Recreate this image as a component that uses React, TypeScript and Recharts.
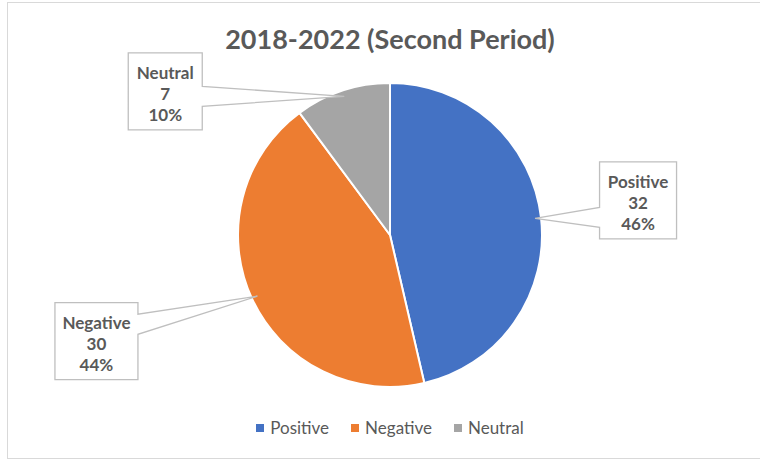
import { PieChart, Pie, Cell, Legend } from "recharts";

const categories = ["Positive", "Negative", "Neutral"];
const counts = [32, 30, 7];
const shareLabels = ["46%", "44%", "10%"];
const colors = ["#4472C4", "#ED7D31", "#A5A5A5"];

const data = categories.map((name, i) => ({ name, value: counts[i] }));

const FONT = "Lato, 'Open Sans', sans-serif";
const RAD = Math.PI / 180;

// where each callout box sits, relative to the point it marks on the slice
const callouts: Record<string, { dx: number; dy: number; w: number }> = {
  Positive: { dx: 103, dy: -18, w: 77 },
  Negative: { dx: -161, dy: 45, w: 83 },
  Neutral: { dx: -179, dy: -5, w: 74 },
};

function Callout(props: any) {
  const { cx, cy, midAngle, outerRadius, name, value, index } = props;
  const r = outerRadius - 6;
  const ax = cx + r * Math.cos(-midAngle * RAD);
  const ay = cy + r * Math.sin(-midAngle * RAD);
  const c = callouts[name];
  const h = 77;
  const bx = ax + c.dx;
  const by = ay + c.dy;
  const left = bx - c.w / 2;
  const right = bx + c.w / 2;
  const top = by - h / 2;
  const bottom = by + h / 2;
  const ny = Math.min(Math.max(ay, top + h * 0.28), bottom - h * 0.28);
  const pts =
    bx > ax
      ? [[left, top], [right, top], [right, bottom], [left, bottom], [left, ny + 10], [ax, ay], [left, ny - 10]]
      : [[left, top], [right, top], [right, ny - 10], [ax, ay], [right, ny + 10], [right, bottom], [left, bottom]];
  const lines = [name, String(value), shareLabels[index]];
  return (
    <g>
      <polygon points={pts.map((p) => p.join(",")).join(" ")} fill="#fff" stroke="#BFBFBF" strokeWidth={1.3} />
      {lines.map((t, i) => (
        <text
          key={i}
          x={bx}
          y={by - 19 + i * 21}
          textAnchor="middle"
          dominantBaseline="central"
          fill="#595959"
          fontFamily={FONT}
          fontWeight={700}
          fontSize={17}
        >
          {t}
        </text>
      ))}
    </g>
  );
}

function LegendRow() {
  return (
    <div style={{ display: "flex", justifyContent: "center", gap: 22, fontFamily: FONT, fontSize: 17, color: "#595959" }}>
      {data.map((d, i) => (
        <span key={d.name} style={{ display: "inline-flex", alignItems: "center" }}>
          <span style={{ display: "inline-block", width: 8, height: 8, background: colors[i], marginRight: 6 }} />
          {d.name}
        </span>
      ))}
    </div>
  );
}

export default function App() {
  return (
    <div style={{ position: "absolute", left: 0, top: 0, width: 760, height: 459, background: "#fff", overflow: "hidden" }}>
      <div
        style={{
          position: "absolute",
          left: 7,
          top: 2,
          width: 800,
          height: 455,
          border: "1px solid #D9D9D9",
        }}
      />
      <div
        style={{
          position: "absolute",
          left: 0,
          top: 22,
          width: 780,
          textAlign: "center",
          fontFamily: FONT,
          fontWeight: 700,
          fontSize: 27,
          color: "#595959",
        }}
      >
        2018-2022 (Second Period)
      </div>
      <PieChart width={760} height={459} style={{ position: "absolute", left: 0, top: 0 }}>
        <Pie
          data={data}
          dataKey="value"
          nameKey="name"
          cx={385}
          cy={230}
          outerRadius={152}
          startAngle={90}
          endAngle={-270}
          stroke="#fff"
          strokeWidth={2}
          label={Callout}
          labelLine={false}
          isAnimationActive={false}
        >
          {data.map((d, i) => (
            <Cell key={d.name} fill={colors[i]} />
          ))}
        </Pie>
        <Legend content={<LegendRow />} wrapperStyle={{ top: 417, left: 0, width: 780, bottom: "auto" }} />
      </PieChart>
    </div>
  );
}
